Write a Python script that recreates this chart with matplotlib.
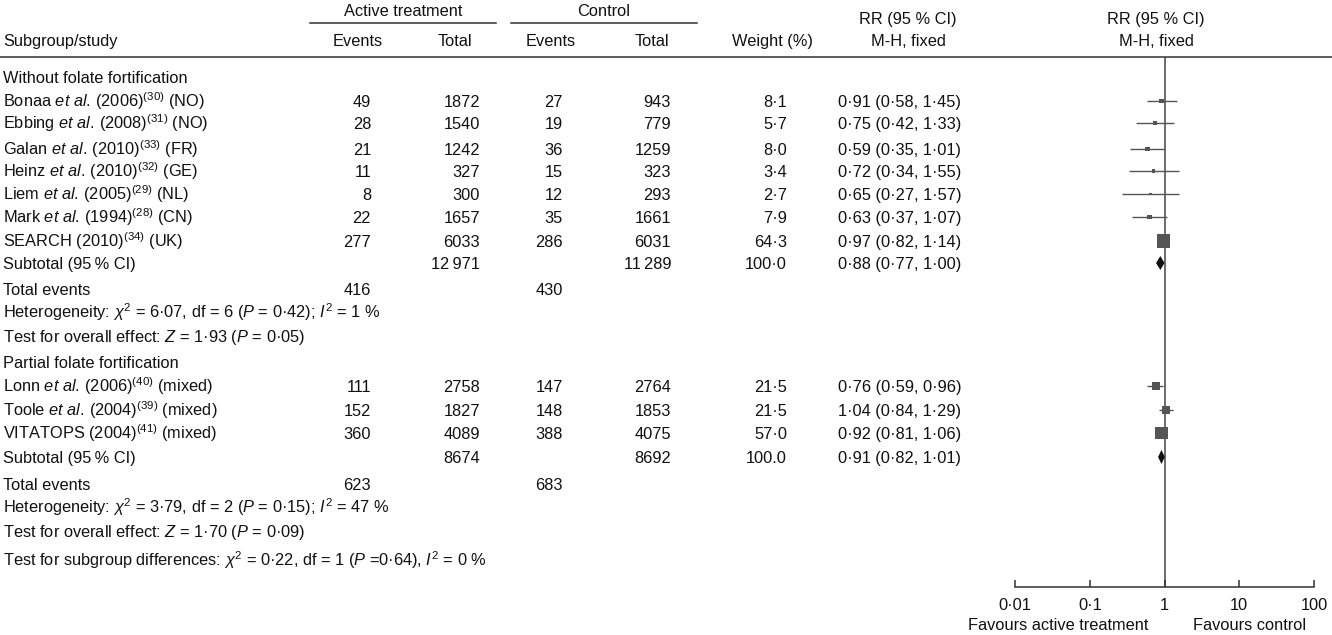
import matplotlib
matplotlib.use("Agg")
import matplotlib.pyplot as plt
from matplotlib.ticker import FixedLocator, NullLocator

plt.rcParams['font.family'] = ['Liberation Sans', 'DejaVu Sans']
plt.rcParams['mathtext.fontset'] = 'custom'
plt.rcParams['mathtext.rm'] = 'Liberation Sans'
plt.rcParams['mathtext.it'] = 'Liberation Sans:italic'
plt.rcParams['mathtext.bf'] = 'Liberation Sans:bold'

# ---- data ----
group_titles = ["Without folate fortification", "Partial folate fortification"]
study_labels = [
    r"Bonaa $\mathit{et\ al.}\,$(2006)$^{(30)}$ (NO)",
    r"Ebbing $\mathit{et\ al.}\,$(2008)$^{(31)}$ (NO)",
    r"Galan $\mathit{et\ al.}\,$(2010)$^{(33)}$ (FR)",
    r"Heinz $\mathit{et\ al.}\,$(2010)$^{(32)}$ (GE)",
    r"Liem $\mathit{et\ al.}\,$(2005)$^{(29)}$ (NL)",
    r"Mark $\mathit{et\ al.}\,$(1994)$^{(28)}$ (CN)",
    r"SEARCH (2010)$^{(34)}$ (UK)",
    r"Lonn $\mathit{et\ al.}\,$(2006)$^{(40)}$ (mixed)",
    r"Toole $\mathit{et\ al.}\,$(2004)$^{(39)}$ (mixed)",
    r"VITATOPS (2004)$^{(41)}$ (mixed)",
]
study_group = [0, 0, 0, 0, 0, 0, 0, 1, 1, 1]
events_active = [49, 28, 21, 11, 8, 22, 277, 111, 152, 360]
total_active = [1872, 1540, 1242, 327, 300, 1657, 6033, 2758, 1827, 4089]
events_control = [27, 19, 36, 15, 12, 35, 286, 147, 148, 388]
total_control = [943, 779, 1259, 323, 293, 1661, 6031, 2764, 1853, 4075]
weight = [8.1, 5.7, 8.0, 3.4, 2.7, 7.9, 64.3, 21.5, 21.5, 57.0]
rr = [0.91, 0.75, 0.59, 0.72, 0.65, 0.63, 0.97, 0.76, 1.04, 0.92]
rr_lo = [0.58, 0.42, 0.35, 0.34, 0.27, 0.37, 0.82, 0.59, 0.84, 0.81]
rr_hi = [1.45, 1.33, 1.01, 1.55, 1.57, 1.07, 1.14, 0.96, 1.29, 1.06]

sub_total_active = ["12\u2009971", "8674"]
sub_total_control = ["11\u2009289", "8692"]
sub_weight = ["100·0", "100.0"]
sub_rr = [0.88, 0.91]
sub_lo = [0.77, 0.82]
sub_hi = [1.00, 1.01]
sub_events_active = [416, 623]
sub_events_control = [430, 683]
heterogeneity = [
    r"Heterogeneity: $\chi^2$ = 6·07, df = 6 ($P$ = 0·42); $I^2$ = 1 %",
    r"Heterogeneity: $\chi^2$ = 3·79, df = 2 ($P$ = 0·15); $I^2$ = 47 %",
]
overall_effect = [
    r"Test for overall effect: $Z$ = 1·93 ($P$ = 0·05)",
    r"Test for overall effect: $Z$ = 1·70 ($P$ = 0·09)",
]
subgroup_diff = r"Test for subgroup differences: $\chi^2$ = 0·22, df = 1 ($P$ =0·64), $I^2$ = 0 %"
axis_ticks = [0.01, 0.1, 1, 10, 100]
axis_ticklabels = ["0·01", "0·1", "1", "10", "100"]

# ---- layout (pixels) ----
W, H = 1332, 635
FS = 11.8
TXT = '#111111'
GREY = '#555555'
study_rows = [101, 123, 149, 171, 194, 217, 241, 386, 410, 433]
title_rows = [77, 362]
subtotal_rows = [263, 457]
events_rows = [289, 484]
het_rows = [312, 507]
effect_rows = [336, 531]
diff_row = 560
col_ev_a, col_tot_a, col_ev_c, col_tot_c, col_w, col_ci = 371, 480, 563, 671, 787, 838

fig = plt.figure(figsize=(W / 100, H / 100), dpi=100)


def put(x, y, s, ha='left'):
    fig.text(x / W, 1 - (y + 6) / H, s, ha=ha, va='baseline', fontsize=FS, color=TXT)


def fmt(v, nd=1):
    return f"{v:.{nd}f}".replace('.', '·')


def ci_text(r, lo, hi):
    return f"{fmt(r, 2)} ({fmt(lo, 2)}, {fmt(hi, 2)})"


# headers
put(403, 10, "Active treatment", 'center')
put(604, 10, "Control", 'center')
put(3, 40, "Subgroup/study")
put(358, 40, "Events", 'center')
put(455, 40, "Total", 'center')
put(551, 40, "Events", 'center')
put(652, 40, "Total", 'center')
put(772, 40, "Weight (%)", 'center')
put(908, 18, "RR (95 % CI)", 'center')
put(908, 40, "M-H, fixed", 'center')
put(1156, 18, "RR (95 % CI)", 'center')
put(1156, 40, "M-H, fixed", 'center')
for x0, x1, y in [(310, 496, 23), (511, 697, 23), (0, W, 57)]:
    fig.add_artist(plt.Line2D([x0 / W, x1 / W], [1 - y / H] * 2, color='#333333', lw=1.1))

# table body
for i, lab in enumerate(study_labels):
    y = study_rows[i]
    put(3, y, lab)
    put(col_ev_a, y, str(events_active[i]), 'right')
    put(col_tot_a, y, str(total_active[i]), 'right')
    put(col_ev_c, y, str(events_control[i]), 'right')
    put(col_tot_c, y, str(total_control[i]), 'right')
    put(col_w, y, fmt(weight[i]), 'right')
    put(col_ci, y, ci_text(rr[i], rr_lo[i], rr_hi[i]))

for g in range(2):
    put(3, title_rows[g], group_titles[g])
    y = subtotal_rows[g]
    put(3, y, "Subtotal (95\u2009% CI)")
    put(col_tot_a, y, sub_total_active[g], 'right')
    put(col_tot_c, y, sub_total_control[g], 'right')
    put(col_w, y, sub_weight[g], 'right')
    put(col_ci, y, ci_text(sub_rr[g], sub_lo[g], sub_hi[g]))
    put(3, events_rows[g], "Total events")
    put(col_ev_a, events_rows[g], str(sub_events_active[g]), 'right')
    put(col_ev_c, events_rows[g], str(sub_events_control[g]), 'right')
    put(3, het_rows[g], heterogeneity[g])
    put(3, effect_rows[g], overall_effect[g])
put(3, diff_row, subgroup_diff)

# forest panel
ax_x0, ax_x1, ax_top, ax_bot = 1015, 1314, 57, 587
ax = fig.add_axes([ax_x0 / W, 1 - ax_bot / H, (ax_x1 - ax_x0) / W, (ax_bot - ax_top) / H])
ax.set_xscale('log')
ax.set_xlim(axis_ticks[0], axis_ticks[-1])
ax.set_ylim(ax_bot, ax_top)
ax.patch.set_alpha(0)
for side in ['left', 'right', 'top']:
    ax.spines[side].set_visible(False)
ax.spines['bottom'].set_color('#333333')
ax.spines['bottom'].set_linewidth(1.1)
ax.set_yticks([])
ax.xaxis.set_major_locator(FixedLocator(axis_ticks))
ax.xaxis.set_minor_locator(NullLocator())
ax.set_xticklabels(axis_ticklabels)
ax.tick_params(axis='x', direction='in', length=5, width=1.1, color='#333333',
               labelsize=FS, labelcolor=TXT, pad=8)
ax.axvline(1, color='#444444', lw=1.1, zorder=1)

ax.hlines(study_rows, rr_lo, rr_hi, color=GREY, lw=1.0, zorder=2)
ax.scatter(rr, study_rows, marker='s', s=[1.5 * w for w in weight], color=GREY,
           linewidths=0, zorder=3)
for g in range(2):
    y = subtotal_rows[g]
    ax.fill([sub_lo[g], sub_rr[g], sub_hi[g], sub_rr[g]], [y, y - 7, y, y + 7],
            color='#111111', lw=0, zorder=3)

put(1058, 624, "Favours active treatment", 'center')
put(1250, 624, "Favours control", 'center')

fig.savefig("out.png", dpi=100)
